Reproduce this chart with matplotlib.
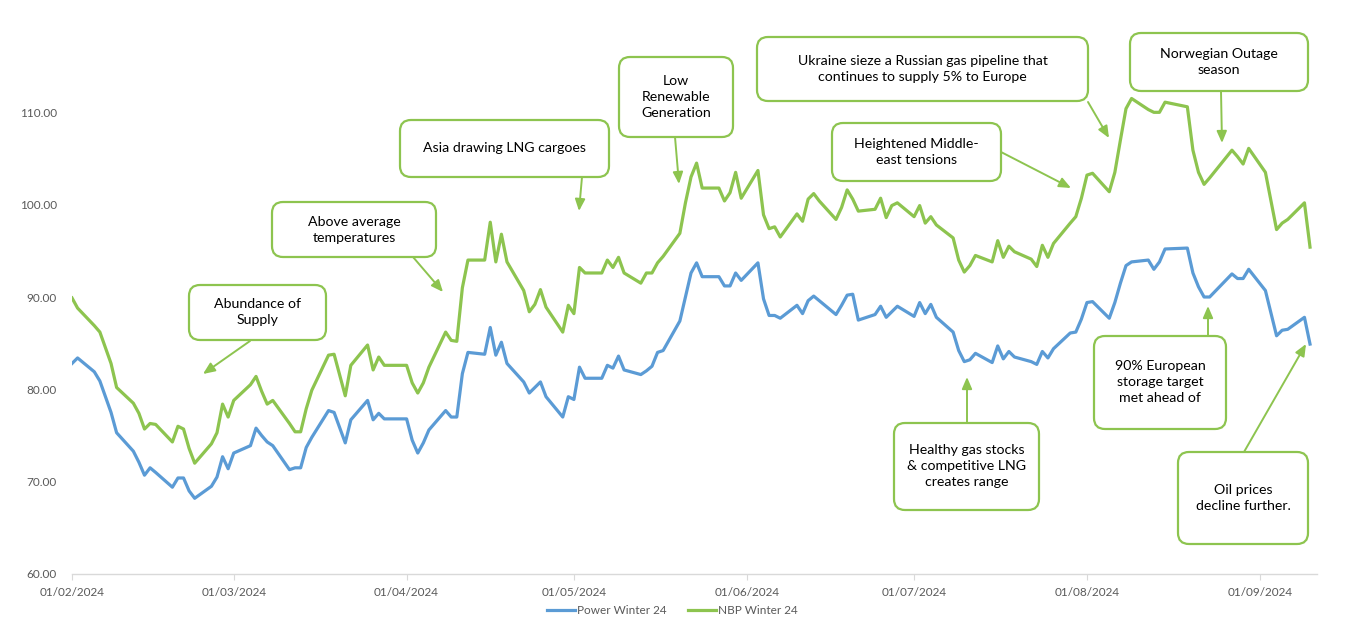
import matplotlib
matplotlib.use("Agg")
import matplotlib.pyplot as plt
import matplotlib.dates as mdates
import numpy as np
import pandas as pd
from matplotlib.patches import FancyBboxPatch

plt.rcParams["font.family"] = ["Lato", "DejaVu Sans"]

dates = ["2024-02-01", "2024-02-02", "2024-02-05", "2024-02-06", "2024-02-08", "2024-02-09", "2024-02-12",
         "2024-02-13", "2024-02-14", "2024-02-15", "2024-02-16", "2024-02-19", "2024-02-20", "2024-02-21",
         "2024-02-22", "2024-02-23", "2024-02-26", "2024-02-27", "2024-02-28", "2024-02-29", "2024-03-01",
         "2024-03-04", "2024-03-05", "2024-03-06", "2024-03-07", "2024-03-08", "2024-03-11", "2024-03-12",
         "2024-03-13", "2024-03-14", "2024-03-15", "2024-03-18", "2024-03-19", "2024-03-21", "2024-03-22",
         "2024-03-25", "2024-03-26", "2024-03-27", "2024-03-28", "2024-04-01", "2024-04-02", "2024-04-03",
         "2024-04-04", "2024-04-05", "2024-04-08", "2024-04-09", "2024-04-10", "2024-04-11", "2024-04-12",
         "2024-04-15", "2024-04-16", "2024-04-17", "2024-04-18", "2024-04-19", "2024-04-22", "2024-04-23",
         "2024-04-24", "2024-04-25", "2024-04-26", "2024-04-29", "2024-04-30", "2024-05-01", "2024-05-02",
         "2024-05-03", "2024-05-06", "2024-05-07", "2024-05-08", "2024-05-09", "2024-05-10", "2024-05-13",
         "2024-05-14", "2024-05-15", "2024-05-16", "2024-05-17", "2024-05-20", "2024-05-21", "2024-05-22",
         "2024-05-23", "2024-05-24", "2024-05-27", "2024-05-28", "2024-05-29", "2024-05-30", "2024-05-31",
         "2024-06-03", "2024-06-04", "2024-06-05", "2024-06-06", "2024-06-07", "2024-06-10", "2024-06-11",
         "2024-06-12", "2024-06-13", "2024-06-14", "2024-06-17", "2024-06-18", "2024-06-19", "2024-06-20",
         "2024-06-21", "2024-06-24", "2024-06-25", "2024-06-26", "2024-06-27", "2024-06-28", "2024-07-01",
         "2024-07-02", "2024-07-03", "2024-07-04", "2024-07-05", "2024-07-08", "2024-07-09", "2024-07-10",
         "2024-07-11", "2024-07-12", "2024-07-15", "2024-07-16", "2024-07-17", "2024-07-18", "2024-07-19",
         "2024-07-22", "2024-07-23", "2024-07-24", "2024-07-25", "2024-07-26", "2024-07-29", "2024-07-30",
         "2024-07-31", "2024-08-01", "2024-08-02", "2024-08-05", "2024-08-06", "2024-08-07", "2024-08-08",
         "2024-08-09", "2024-08-12", "2024-08-13", "2024-08-14", "2024-08-15", "2024-08-19", "2024-08-20",
         "2024-08-21", "2024-08-22", "2024-08-23", "2024-08-27", "2024-08-28", "2024-08-29", "2024-08-30",
         "2024-09-02", "2024-09-04", "2024-09-05", "2024-09-06", "2024-09-09", "2024-09-10"]

power_w24 = [82.8, 83.4, 81.9, 80.9, 77.5, 75.3, 73.3, 72.1, 70.7, 71.5, 71.0, 69.4, 70.4, 70.4, 69.0, 68.2,
             69.5, 70.5, 72.7, 71.4, 73.1, 73.9, 75.8, 75.0, 74.3, 73.9, 71.3, 71.5, 71.5, 73.7, 74.8, 77.7,
             77.5, 74.2, 76.7, 78.8, 76.7, 77.4, 76.8, 76.8, 74.5, 73.1, 74.2, 75.6, 77.7, 77.0, 77.0, 81.7,
             84.0, 83.8, 86.7, 83.7, 85.1, 82.8, 80.8, 79.6, 80.2, 80.8, 79.2, 77.0, 79.2, 78.9, 82.4, 81.2,
             81.2, 82.6, 82.3, 83.6, 82.1, 81.6, 82.0, 82.5, 84.0, 84.2, 87.4, 90.0, 92.6, 93.7, 92.2, 92.2,
             91.2, 91.2, 92.6, 91.8, 93.7, 89.8, 88.0, 88.0, 87.7, 89.1, 88.2, 89.6, 90.1, 89.6, 88.1, 89.1,
             90.2, 90.3, 87.5, 88.1, 89.0, 87.8, 88.4, 89.0, 87.9, 89.4, 88.2, 89.2, 87.8, 86.2, 84.2, 83.0,
             83.2, 83.9, 82.9, 84.7, 83.3, 84.1, 83.5, 83.0, 82.7, 84.1, 83.4, 84.4, 86.1, 86.2, 87.6, 89.4,
             89.5, 87.7, 89.4, 91.5, 93.4, 93.8, 94.0, 93.0, 93.8, 95.2, 95.3, 92.6, 91.1, 90.0, 90.0, 92.5,
             92.0, 92.0, 93.0, 90.7, 85.8, 86.4, 86.5, 87.8, 84.9]

nbp_w24 = [89.9, 88.8, 86.9, 86.2, 82.8, 80.2, 78.5, 77.4, 75.7, 76.3, 76.2, 74.3, 76.0, 75.7, 73.6, 72.0,
           74.1, 75.3, 78.4, 77.0, 78.8, 80.5, 81.4, 79.8, 78.4, 78.8, 76.3, 75.4, 75.4, 77.9, 79.9, 83.7,
           83.8, 79.3, 82.6, 84.8, 82.1, 83.5, 82.6, 82.6, 80.7, 79.6, 80.7, 82.4, 86.2, 85.3, 85.2, 91.0,
           94.0, 94.0, 98.1, 93.8, 96.8, 93.8, 90.7, 88.4, 89.2, 90.8, 88.9, 86.2, 89.1, 88.2, 93.2, 92.6,
           92.6, 94.0, 93.2, 94.3, 92.6, 91.5, 92.6, 92.6, 93.7, 94.4, 96.9, 100.2, 103.0, 104.5, 101.8, 101.8,
           100.4, 101.3, 103.5, 100.7, 103.7, 98.9, 97.4, 97.6, 96.5, 99.0, 98.2, 100.6, 101.2, 100.4, 98.4, 99.7,
           101.6, 100.6, 99.3, 99.5, 100.7, 98.6, 99.9, 100.2, 98.7, 99.9, 98.0, 98.7, 97.8, 96.4, 94.0, 92.7,
           93.4, 94.5, 93.8, 96.1, 94.3, 95.5, 94.9, 94.1, 93.3, 95.6, 94.3, 95.8, 98.0, 98.7, 100.7, 103.2,
           103.4, 101.4, 103.5, 107.0, 110.4, 111.5, 110.3, 110.0, 110.0, 111.1, 110.6, 105.9, 103.5, 102.2, 102.9, 105.9,
           105.2, 104.4, 106.1, 103.5, 97.3, 98.0, 98.4, 100.2, 95.4]

series_names = ["Power Winter 24", "NBP Winter 24"]
month_ticks = ["2024-02-01", "2024-03-01", "2024-04-01", "2024-05-01", "2024-06-01",
               "2024-07-01", "2024-08-01", "2024-09-01"]
y_ticks = [60, 70, 80, 90, 100, 110]

# callouts: text, box (x0, y0, x1, y1) in image pixels, arrow start, arrow tip
notes = [
    ("Abundance of\nSupply", (189, 285, 326, 340), (250, 341), (203, 374)),
    ("Above average\ntemperatures", (272, 202, 436, 257), (413, 257), (443, 292)),
    ("Asia drawing LNG cargoes", (400, 120, 609, 177), (582, 177), (579, 211)),
    ("Low\nRenewable\nGeneration", (619, 57, 733, 137), (675, 137), (679, 184)),
    ("Ukraine sieze a Russian gas pipeline that\ncontinues to supply 5% to Europe", (757, 37, 1088, 101), (1088, 102), (1109, 138)),
    ("Heightened Middle-\neast tensions", (832, 123, 1001, 181), (1001, 152), (1071, 188)),
    ("Norwegian Outage\nseason", (1130, 33, 1308, 91), (1221, 91), (1222, 143)),
    ("Healthy gas stocks\n& competitive LNG\ncreates range", (894, 423, 1039, 510), (967, 423), (967, 377)),
    ("90% European\nstorage target\nmet ahead of", (1094, 336, 1226, 429), (1208, 336), (1208, 306)),
    ("Oil prices\ndecline further.", (1178, 452, 1308, 544), (1244, 452), (1306, 344)),
]

blue = "#5B9BD5"
green = "#8DC44F"
grey_txt = "#595959"

W, H = 1348, 636
fig = plt.figure(figsize=(W / 100, H / 100), dpi=100)
ax = fig.add_axes([72 / W, 1 - 574 / H, (1317 - 72) / W, (574 - 20) / H])

x = pd.to_datetime(dates)
ax.plot(x, power_w24, color=blue, lw=2.3, label=series_names[0], solid_joinstyle="round")
ax.plot(x, nbp_w24, color=green, lw=2.3, label=series_names[1], solid_joinstyle="round")

ax.set_ylim(60, 120)
ax.set_yticks(y_ticks)
ax.yaxis.set_major_formatter(matplotlib.ticker.FormatStrFormatter("%.2f"))
ax.set_xlim(pd.Timestamp("2024-02-01"), pd.Timestamp("2024-09-11 06:00"))
ax.set_xticks(pd.to_datetime(month_ticks))
ax.xaxis.set_major_formatter(mdates.DateFormatter("%d/%m/%Y"))

for s in ["top", "right", "left"]:
    ax.spines[s].set_visible(False)
ax.spines["bottom"].set_color("#D9D9D9")
ax.spines["bottom"].set_linewidth(1.0)
ax.tick_params(axis="y", length=0, pad=11, labelsize=8.5, labelcolor=grey_txt)
ax.tick_params(axis="x", length=4, color="#D9D9D9", pad=5, labelsize=8.5, labelcolor=grey_txt)

fig.legend(loc="center", bbox_to_anchor=(672 / W, 1 - 611 / H), ncol=2, frameon=False,
           fontsize=8.5, labelcolor=grey_txt, handlelength=2.4, handletextpad=0.15, columnspacing=1.8)

# overlay in image pixel coordinates for the callouts
ov = fig.add_axes([0, 0, 1, 1])
ov.set_xlim(0, W)
ov.set_ylim(H, 0)
ov.axis("off")
ov.patch.set_alpha(0)

for text, (x0, y0, x1, y1), start, tip in notes:
    box = FancyBboxPatch((x0, y0), x1 - x0, y1 - y0, boxstyle="round,pad=0,rounding_size=11",
                         facecolor="white", edgecolor=green, linewidth=1.6)
    ov.add_patch(box)
    ov.text((x0 + x1) / 2, (y0 + y1) / 2, text, ha="center", va="center", fontsize=10.2,
            color="black", linespacing=1.4)
    ov.annotate("", xy=tip, xytext=start,
                arrowprops=dict(arrowstyle="-|>,head_length=0.7,head_width=0.3", color=green,
                                lw=1.4, shrinkA=0, shrinkB=0))

fig.savefig("out.png", dpi=100)
